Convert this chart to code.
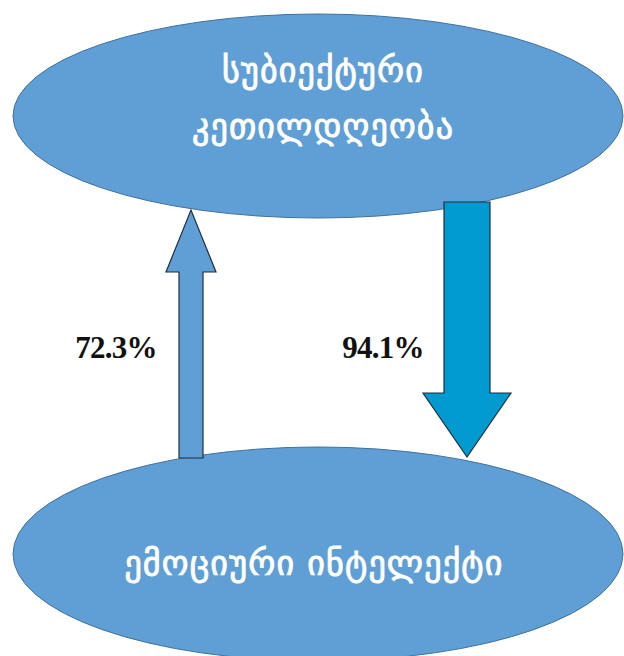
<!DOCTYPE html>
<html>
<head>
<meta charset="utf-8">
<script src="https://cdn.jsdelivr.net/npm/d3@7"></script>
<style>
  html, body { margin: 0; padding: 0; background: #fff; }
</style>
</head>
<body>
<div id="chart"></div>
<script>
// nodes (top, bottom) and the two links between them
const nodeLines = [
  ['სუბიექტური', 'კეთილდღეობა'],
  ['ემოციური ინტელექტი']
];
const linkLabels = ['72.3%', '94.1%'];
const linkDirs = ['up', 'down'];

const width = 624,
  height = 656;

const svg = d3
  .select('#chart')
  .append('svg')
  .attr('width', width)
  .attr('height', height);

// ellipses
const ell = [
  { cx: 318, cy: 116, rx: 305, ry: 102 },
  { cx: 318, cy: 554, rx: 305, ry: 107 }
];

svg
  .selectAll('ellipse')
  .data(ell)
  .join('ellipse')
  .attr('cx', (d) => d.cx)
  .attr('cy', (d) => d.cy)
  .attr('rx', (d) => d.rx)
  .attr('ry', (d) => d.ry)
  .attr('fill', '#5f9fd6')
  .attr('stroke', '#41719c')
  .attr('stroke-width', 1);

// arrows
const arrows = [
  { x: 191, y0: 458, y1: 210, shaft: 24, head: 50, headLen: 62, fill: '#5f9fd6' },
  { x: 467, y0: 202, y1: 457, shaft: 46, head: 88, headLen: 64, fill: '#0099d0' }
];

function arrowPath(a) {
  const dir = a.y1 < a.y0 ? -1 : 1;
  const hb = a.y1 - dir * a.headLen;
  const p = d3.path();
  p.moveTo(a.x - a.shaft / 2, a.y0);
  p.lineTo(a.x - a.shaft / 2, hb);
  p.lineTo(a.x - a.head / 2, hb);
  p.lineTo(a.x, a.y1);
  p.lineTo(a.x + a.head / 2, hb);
  p.lineTo(a.x + a.shaft / 2, hb);
  p.lineTo(a.x + a.shaft / 2, a.y0);
  p.closePath();
  return p.toString();
}

svg
  .selectAll('path.arrow')
  .data(arrows)
  .join('path')
  .attr('class', 'arrow')
  .attr('d', arrowPath)
  .attr('fill', (d) => d.fill)
  .attr('stroke', '#1f2f3f')
  .attr('stroke-width', 1.2)
  .attr('stroke-linejoin', 'miter');

// percent labels
const labelPos = [
  { x: 116, y: 358 },
  { x: 383, y: 358 }
];

svg
  .selectAll('text.pct')
  .data(linkLabels)
  .join('text')
  .attr('class', 'pct')
  .attr('x', (d, i) => labelPos[i].x)
  .attr('y', (d, i) => labelPos[i].y)
  .attr('text-anchor', 'middle')
  .attr('font-family', "'Liberation Serif', 'DejaVu Serif', serif")
  .attr('font-weight', 'bold')
  .attr('font-size', 31)
  .attr('fill', '#111')
  .attr('letter-spacing', -0.8)
  .text((d) => d);

// node texts (white, Georgian)
const textPos = [
  { x: 323, y: [82, 138] },
  { x: 314, y: [575] }
];

nodeLines.forEach((lines, i) => {
  svg
    .append('g')
    .selectAll('text')
    .data(lines)
    .join('text')
    .attr('x', textPos[i].x)
    .attr('y', (d, j) => textPos[i].y[j])
    .attr('text-anchor', 'middle')
    .attr('font-family', "'DejaVu Sans', sans-serif")
    .attr('font-size', 34)
    .attr('letter-spacing', 1.2)
    .attr('fill', '#fff')
    .attr('stroke', '#fff')
    .attr('stroke-width', 0.9)
    .text((d) => d);
});
</script>
</body>
</html>
